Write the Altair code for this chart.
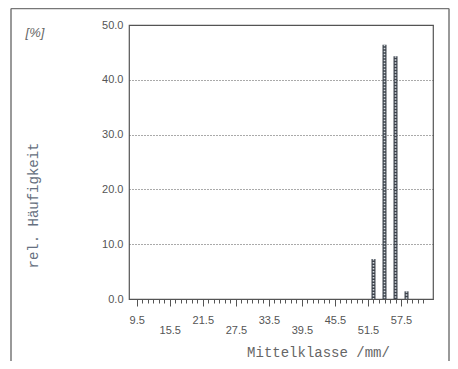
import altair as alt
import pandas as pd

# Data
classes = [52.5, 54.5, 56.5, 58.5]          # Mittelklasse [mm]
freq = [7.3, 46.4, 44.3, 1.4]               # rel. Häufigkeit [%]
upper_labels = [9.5, 21.5, 33.5, 45.5, 57.5]
lower_labels = [15.5, 27.5, 39.5, 51.5]
minor_ticks = [9.5 + i for i in range(53)]
y_ticks = [0, 10, 20, 30, 40, 50]

df = pd.DataFrame({"klasse": classes, "freq": freq})

TXT = "#555555"
LINE = "#555555"
XDOM = [9, 62.4]


def x_axis(values, tick_size, pad, labels=True, title=None):
    kw = dict(
        values=values,
        orient="bottom",
        format=".1f",
        tickSize=tick_size,
        tickColor=LINE,
        labels=labels,
        labelPadding=pad,
        labelColor=TXT,
        labelFont="Liberation Sans",
        labelFontSize=11,
        labelOverlap=False,
        labelFlush=False,
        domain=False,
        grid=False,
    )
    if title:
        kw.update(
            title=title,
            titleFont="Liberation Mono",
            titleFontSize=14,
            titleFontWeight="normal",
            titleColor="#666666",
            titleX=189,
            titleY=53,
            titleBaseline="middle",
            titleAlign="center",
        )
    else:
        kw.update(title=None)
    return alt.Axis(**kw)


xs = alt.Scale(domain=XDOM, nice=False, zero=False)

y_enc = alt.Y(
    "freq:Q",
    scale=alt.Scale(domain=[0, 50], nice=False),
    axis=alt.Axis(
        values=y_ticks,
        format=".1f",
        ticks=False,
        labelPadding=6,
        labelColor=TXT,
        labelFont="Liberation Sans",
        labelFontSize=11,
        domain=False,
        grid=True,
        gridDash=[1, 2],
        gridColor=LINE,
        gridWidth=1,
        title="rel. Häufigkeit",
        titleFont="Liberation Mono",
        titleFontSize=14,
        titleFontWeight="normal",
        titleColor="#667080",
        titleX=-96,
        titleY=180,
        titleAngle=270,
        titleBaseline="middle",
        titleAlign="center",
    ),
)

bars = alt.Chart(df).mark_bar(size=4, color="#3d434c").encode(
    x=alt.X("klasse:Q", scale=xs,
            axis=x_axis(upper_labels, 7, 8, title="Mittelklasse /mm/")),
    y=y_enc,
)

hatch = alt.Chart(df).mark_rule(
    color="#d8dde2", strokeWidth=1.6, strokeDash=[1.5, 1.5]
).encode(
    x=alt.X("klasse:Q", scale=xs, axis=x_axis(lower_labels, 7, 18)),
    y=alt.Y("freq:Q"),
    y2=alt.datum(0),
)

minor = alt.Chart(df).mark_point(opacity=0).encode(
    x=alt.X("klasse:Q", scale=xs, axis=x_axis(minor_ticks, 4, 2, labels=False)),
    y=alt.Y("freq:Q"),
)

one = alt.Data(values=[{}])
frame_left = alt.Chart(one).mark_rule(color="#777777", strokeWidth=1.5).encode(
    x=alt.value(-118), y=alt.value(-16.5), y2=alt.value(336))
frame_top = alt.Chart(one).mark_rule(color="#777777", strokeWidth=1.5).encode(
    x=alt.value(-118), x2=alt.value(320), y=alt.value(-16.5))
frame_right = alt.Chart(one).mark_rule(color="#777777", strokeWidth=1.5).encode(
    x=alt.value(320), y=alt.value(-16.5), y2=alt.value(336))

pct = alt.Chart(one).mark_text(
    text="[%]", font="Liberation Sans", fontSize=13, fontStyle="italic",
    color="#666666", align="center", baseline="middle"
).encode(x=alt.value(-94), y=alt.value(8))

chart = alt.layer(
    bars, hatch, minor, frame_left, frame_top, frame_right, pct
).resolve_axis(x="independent").properties(
    width=304,
    height=274,
    autosize=alt.AutoSizeParams(type="none"),
    padding={"left": 121, "top": 17, "right": 17, "bottom": 62},
).configure(background="white").configure_view(stroke=LINE, strokeWidth=1.2)

chart.save("out.html", embed_options={"renderer": "svg", "actions": False})
